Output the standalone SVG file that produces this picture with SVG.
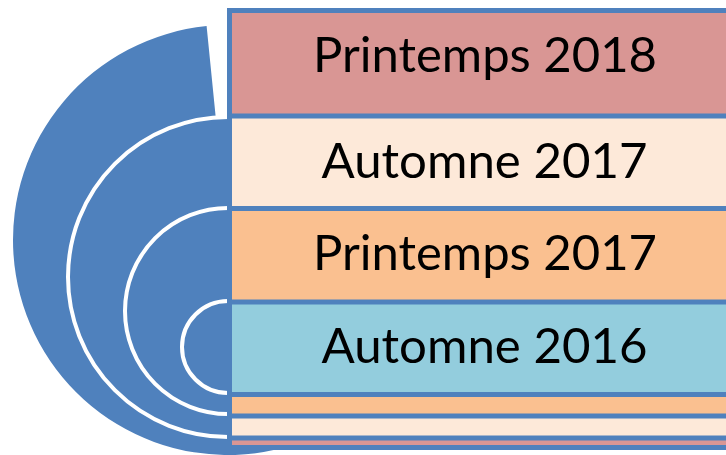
<svg xmlns="http://www.w3.org/2000/svg" width="726" height="455" viewBox="0 0 726 455">
<style>
.ring{fill:#4F81BD;stroke:#FFFFFF;stroke-width:4}
.box{stroke:#4F81BD;stroke-width:5}
.lbl{font-family:Lato,"Open Sans","Liberation Sans",sans-serif;font-size:48px;fill:#000000;text-anchor:middle}
</style>
<rect width="726" height="455" fill="#FFFFFF"/>
<g id="circles">
<path id="ring1" d="M228,240 L206.6,26.1 A215,215 0 1,0 443,240 Z" fill="#4F81BD"/>
<circle id="ring2" class="ring" cx="228" cy="277" r="160"/>
<circle id="ring3" class="ring" cx="228" cy="311" r="103"/>
<circle id="ring4" class="ring" cx="228" cy="347" r="46"/>
</g>
<g id="node-printemps-2018">
<rect class="box" x="229.5" y="10.5" width="600" height="437" fill="#D99694"/>
<text class="lbl" x="485" y="72" textLength="344" lengthAdjust="spacingAndGlyphs">Printemps 2018</text>
</g>
<g id="node-automne-2017">
<rect class="box" x="229.5" y="116" width="600" height="322" fill="#FDE9D9"/>
<text class="lbl" x="484.5" y="178" textLength="326" lengthAdjust="spacingAndGlyphs">Automne 2017</text>
</g>
<g id="node-printemps-2017">
<rect class="box" x="229.5" y="208.5" width="600" height="207.5" fill="#FAC090"/>
<text class="lbl" x="485" y="270" textLength="344" lengthAdjust="spacingAndGlyphs">Printemps 2017</text>
</g>
<g id="node-automne-2016">
<rect class="box" x="229.5" y="302" width="600" height="92.5" fill="#93CDDD"/>
<text class="lbl" x="484.5" y="363" textLength="326" lengthAdjust="spacingAndGlyphs">Automne 2016</text>
</g>
<g id="connectors"></g>
</svg>
